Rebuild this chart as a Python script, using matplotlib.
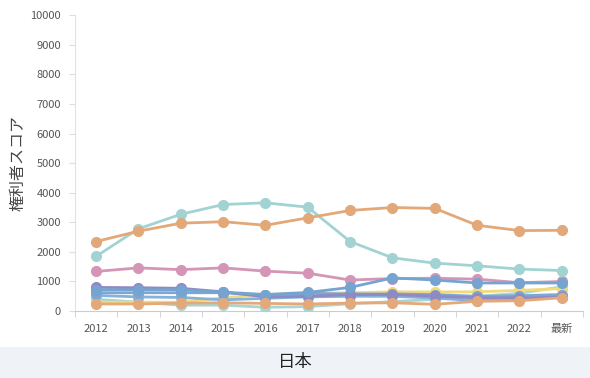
import numpy as np
import matplotlib.pyplot as plt
from matplotlib.patches import Rectangle

plt.rcParams['font.family'] = ['Noto Sans CJK JP', 'DejaVu Sans']

# categories
years = ["2012", "2013", "2014", "2015", "2016", "2017", "2018", "2019", "2020", "2021", "2022", "最新"]

# series values
orange_hi = [2350, 2700, 2970, 3020, 2900, 3150, 3400, 3500, 3470, 2900, 2720, 2730]
teal_hi = [1850, 2780, 3270, 3600, 3660, 3510, 2350, 1800, 1620, 1530, 1420, 1370]
pink = [1340, 1460, 1400, 1460, 1350, 1280, 1050, 1100, 1110, 1080, 960, 1000]
purple = [800, 790, 770, 650, 480, 500, 560, 560, 500, 450, 450, 470]
blue_rise = [720, 720, 720, 640, 560, 630, 800, 1120, 1050, 950, 950, 950]
blue_mid = [620, 620, 620, 620, 540, 600, 580, 580, 560, 500, 520, 560]
blue_low = [530, 480, 460, 380, 430, 480, 500, 500, 440, 350, 400, 480]
teal_low = [400, 300, 200, 200, 130, 150, 250, 320, 400, 500, 600, 820]
yellow = [300, 300, 300, 450, 560, 600, 620, 650, 650, 650, 700, 760]
orange_low = [240, 240, 270, 280, 260, 240, 270, 280, 230, 330, 350, 450]

series = [
    (teal_low, "#a6d6d4"),
    (yellow, "#f2d97c"),
    (blue_low, "#86b2da"),
    (blue_mid, "#7aa7d3"),
    (purple, "#8f8ac3"),
    (pink, "#d595b6"),
    (blue_rise, "#76a4d1"),
    (orange_low, "#e4a97a"),
    (teal_hi, "#a2d3d3"),
    (orange_hi, "#e3a878"),
]

fig = plt.figure(figsize=(5.9, 3.78), dpi=100)
ax = fig.add_axes([0.127, 0.177, 0.861, 0.783])

x = np.arange(len(years))
for vals, col in series:
    ax.plot(x, vals, color=col, lw=2.0, marker="o", ms=7, mec=col, mfc=col, zorder=3)

ax.set_xlim(-0.5, len(years) - 0.5)
ax.set_ylim(0, 10000)
ax.set_yticks(np.arange(0, 10001, 1000))
ax.set_xticks(x)
ax.set_xticklabels(years)
ax.set_xticks(np.arange(-0.5, len(years), 1), minor=True)
ax.tick_params(axis="x", which="major", length=0, pad=9, labelsize=8, labelcolor="#555555")
ax.tick_params(axis="x", which="minor", length=4, color="#cccccc")
ax.tick_params(axis="y", length=4, color="#dddddd", labelsize=8, labelcolor="#555555", pad=6)

for s in ["top", "right"]:
    ax.spines[s].set_visible(False)
ax.spines["left"].set_color("#e2e2e2")
ax.spines["bottom"].set_color("#cccccc")

ax.set_ylabel("権利者スコア", fontsize=11.5, color="#444444", labelpad=3)

# bottom band with title
fig.patches.append(Rectangle((0, 0), 1, 31 / 378, transform=fig.transFigure,
                             facecolor="#eff3f8", edgecolor="none", zorder=0))
fig.text(0.5, 16 / 378, "日本", ha="center", va="center", fontsize=12.5, color="#222222")

fig.savefig("out.png", dpi=100)
